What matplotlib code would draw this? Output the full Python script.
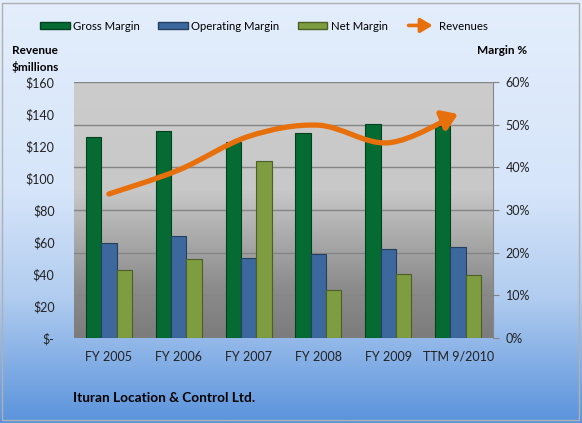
import numpy as np
import matplotlib
matplotlib.use('Agg')
import matplotlib.pyplot as plt
import matplotlib.patches as mpatches
from matplotlib.path import Path
from matplotlib.legend_handler import HandlerPatch
from matplotlib.colors import LinearSegmentedColormap
from matplotlib.ticker import FuncFormatter, MultipleLocator

plt.rcParams['font.family'] = ['Lato', 'DejaVu Sans']

periods = ['FY 2005', 'FY 2006', 'FY 2007', 'FY 2008', 'FY 2009', 'TTM 9/2010']
gross_margin = [47.2, 48.4, 45.9, 48.1, 50.1, 49.8]
operating_margin = [22.2, 23.9, 18.8, 19.8, 20.9, 21.4]
net_margin = [15.9, 18.4, 41.5, 11.2, 14.9, 14.7]
revenues = [90, 105, 126, 133, 122, 140]

COLORS = {
    'gross': '#056b33',
    'operating': '#3d689d',
    'net': '#7e9c40',
    'revenue': '#e8700c',
}


class ArrowHandler(HandlerPatch):
    def create_artists(self, legend, orig_handle, xdescent, ydescent,
                       width, height, fontsize, trans):
        y = height / 2 - ydescent
        arr = mpatches.FancyArrowPatch((-xdescent, y), (width - xdescent, y),
                                       arrowstyle='-|>,head_length=0.5,head_width=0.3',
                                       mutation_scale=14, lw=2.6,
                                       color=COLORS['revenue'], transform=trans)
        return [arr]


def smooth_path(xs, ys):
    # catmull-rom -> cubic bezier, like excel's smoothed line
    pts = np.column_stack([xs, ys]).astype(float)
    verts = [pts[0]]
    codes = [Path.MOVETO]
    n = len(pts)
    for i in range(n - 1):
        p0 = pts[i - 1] if i > 0 else pts[i]
        p1 = pts[i]
        p2 = pts[i + 1]
        p3 = pts[i + 2] if i + 2 < n else pts[i + 1]
        c1 = p1 + (p2 - p0) / 6.0
        c2 = p2 - (p3 - p1) / 6.0
        verts += [c1, c2, p2]
        codes += [Path.CURVE4] * 3
    return Path(verts, codes)


fig = plt.figure(figsize=(5.82, 4.23), dpi=100)

# figure background gradient
bg = fig.add_axes([0, 0, 1, 1], zorder=-10)
bg_cmap = LinearSegmentedColormap.from_list(
    'bg', [(0, '#e4eefc'), (0.45, '#d6e5fa'), (0.7, '#b2cdf0'), (1.0, '#5a93dc')])
bg.imshow(np.linspace(0, 1, 256).reshape(-1, 1), aspect='auto', cmap=bg_cmap,
          extent=[0, 1, 0, 1], origin='upper')
bg.add_patch(mpatches.Rectangle((0.004, 0.006), 0.99, 0.987, fill=False,
                                edgecolor='#b0b0b0', lw=1.0))
bg.set_xlim(0, 1)
bg.set_ylim(0, 1)
bg.axis('off')

rect = [74 / 582, 1 - 338 / 423, (493 - 74) / 582, (338 - 82) / 423]
ax_m = fig.add_axes(rect)          # margins (right axis)
ax_r = fig.add_axes(rect, zorder=5)  # revenue (left axis), drawn on top
ax_r.patch.set_visible(False)

x = np.arange(len(periods))
w = 0.22

# plot area gradient
pa_cmap = LinearSegmentedColormap.from_list(
    'pa', [(0, '#cccccc'), (0.42, '#c8c8c8'), (0.8, '#8c8c8c'), (1.0, '#7c7c7c')])
ax_m.imshow(np.linspace(0, 1, 256).reshape(-1, 1), aspect='auto', cmap=pa_cmap,
            extent=[-0.5, len(periods) - 0.5, 0, 60], origin='upper', zorder=0)

for v in range(10, 61, 10):
    ax_m.axhline(v, color='#858585', lw=1.0, zorder=1)

ax_m.bar(x - w, gross_margin, w, color=COLORS['gross'], edgecolor='#03401e', lw=0.8, zorder=3)
ax_m.bar(x, operating_margin, w, color=COLORS['operating'], edgecolor='#243f60', lw=0.8, zorder=3)
ax_m.bar(x + w, net_margin, w, color=COLORS['net'], edgecolor='#4c5f26', lw=0.8, zorder=3)

ax_m.set_xlim(-0.5, len(periods) - 0.5)
ax_m.set_ylim(0, 60)
ax_m.yaxis.tick_right()
ax_m.yaxis.set_major_locator(MultipleLocator(10))
ax_m.yaxis.set_major_formatter(FuncFormatter(lambda v, p: f'{v:.0f}%'))
ax_m.tick_params(axis='y', length=4, color='#858585', labelsize=9, pad=5, labelcolor='#222222')
ax_m.set_xticks(x)
ax_m.set_xticklabels(periods)
ax_m.tick_params(axis='x', length=0, labelsize=9, pad=9, labelcolor='#222222')
for s in ax_m.spines.values():
    s.set_visible(False)
ax_m.spines['right'].set_visible(True)
ax_m.spines['right'].set_color('#858585')

# revenue curve with arrow
ax_r.set_xlim(-0.5, len(periods) - 0.5)
ax_r.set_ylim(0, 160)
arrow = mpatches.FancyArrowPatch(path=smooth_path(x, revenues),
                                 arrowstyle='-|>,head_length=0.45,head_width=0.3',
                                 mutation_scale=20, lw=3.8, color=COLORS['revenue'],
                                 joinstyle='round', capstyle='round', zorder=6)
ax_r.add_patch(arrow)
ax_r.yaxis.set_major_locator(MultipleLocator(20))
ax_r.yaxis.set_major_formatter(FuncFormatter(lambda v, p: '$-' if v == 0 else f'${v:.0f}'))
ax_r.tick_params(axis='y', length=0, labelsize=9, pad=14, labelcolor='#222222')
ax_r.set_xticks([])
for s in ax_r.spines.values():
    s.set_visible(False)

# texts
fig.text(12 / 582, 1 - 50 / 423, 'Revenue', fontsize=8.5, fontweight='bold', va='center')
fig.text(12 / 582, 1 - 67 / 423, '$millions', fontsize=8.5, fontweight='bold', va='center')
fig.text(527 / 582, 1 - 50 / 423, 'Margin %', fontsize=8.5, fontweight='bold',
         va='center', ha='right')
fig.text(73 / 582, 1 - 398 / 423, 'Ituran Location & Control Ltd.', fontsize=9.8,
         fontweight='bold', va='center')

handles = [
    mpatches.Patch(facecolor=COLORS['gross'], edgecolor='#03401e', label='Gross Margin'),
    mpatches.Patch(facecolor=COLORS['operating'], edgecolor='#243f60', label='Operating Margin'),
    mpatches.Patch(facecolor=COLORS['net'], edgecolor='#4c5f26', label='Net Margin'),
    mpatches.Patch(color=COLORS['revenue'], label='Revenues'),
]
fig.legend(handles=handles, loc='center', bbox_to_anchor=(264 / 582, 1 - 26 / 423), ncol=4,
           frameon=False, fontsize=8.2, handlelength=2.6, handleheight=0.45,
           handletextpad=0.3, columnspacing=1.6,
           handler_map={handles[3]: ArrowHandler()})

fig.savefig('out.png', dpi=100)
